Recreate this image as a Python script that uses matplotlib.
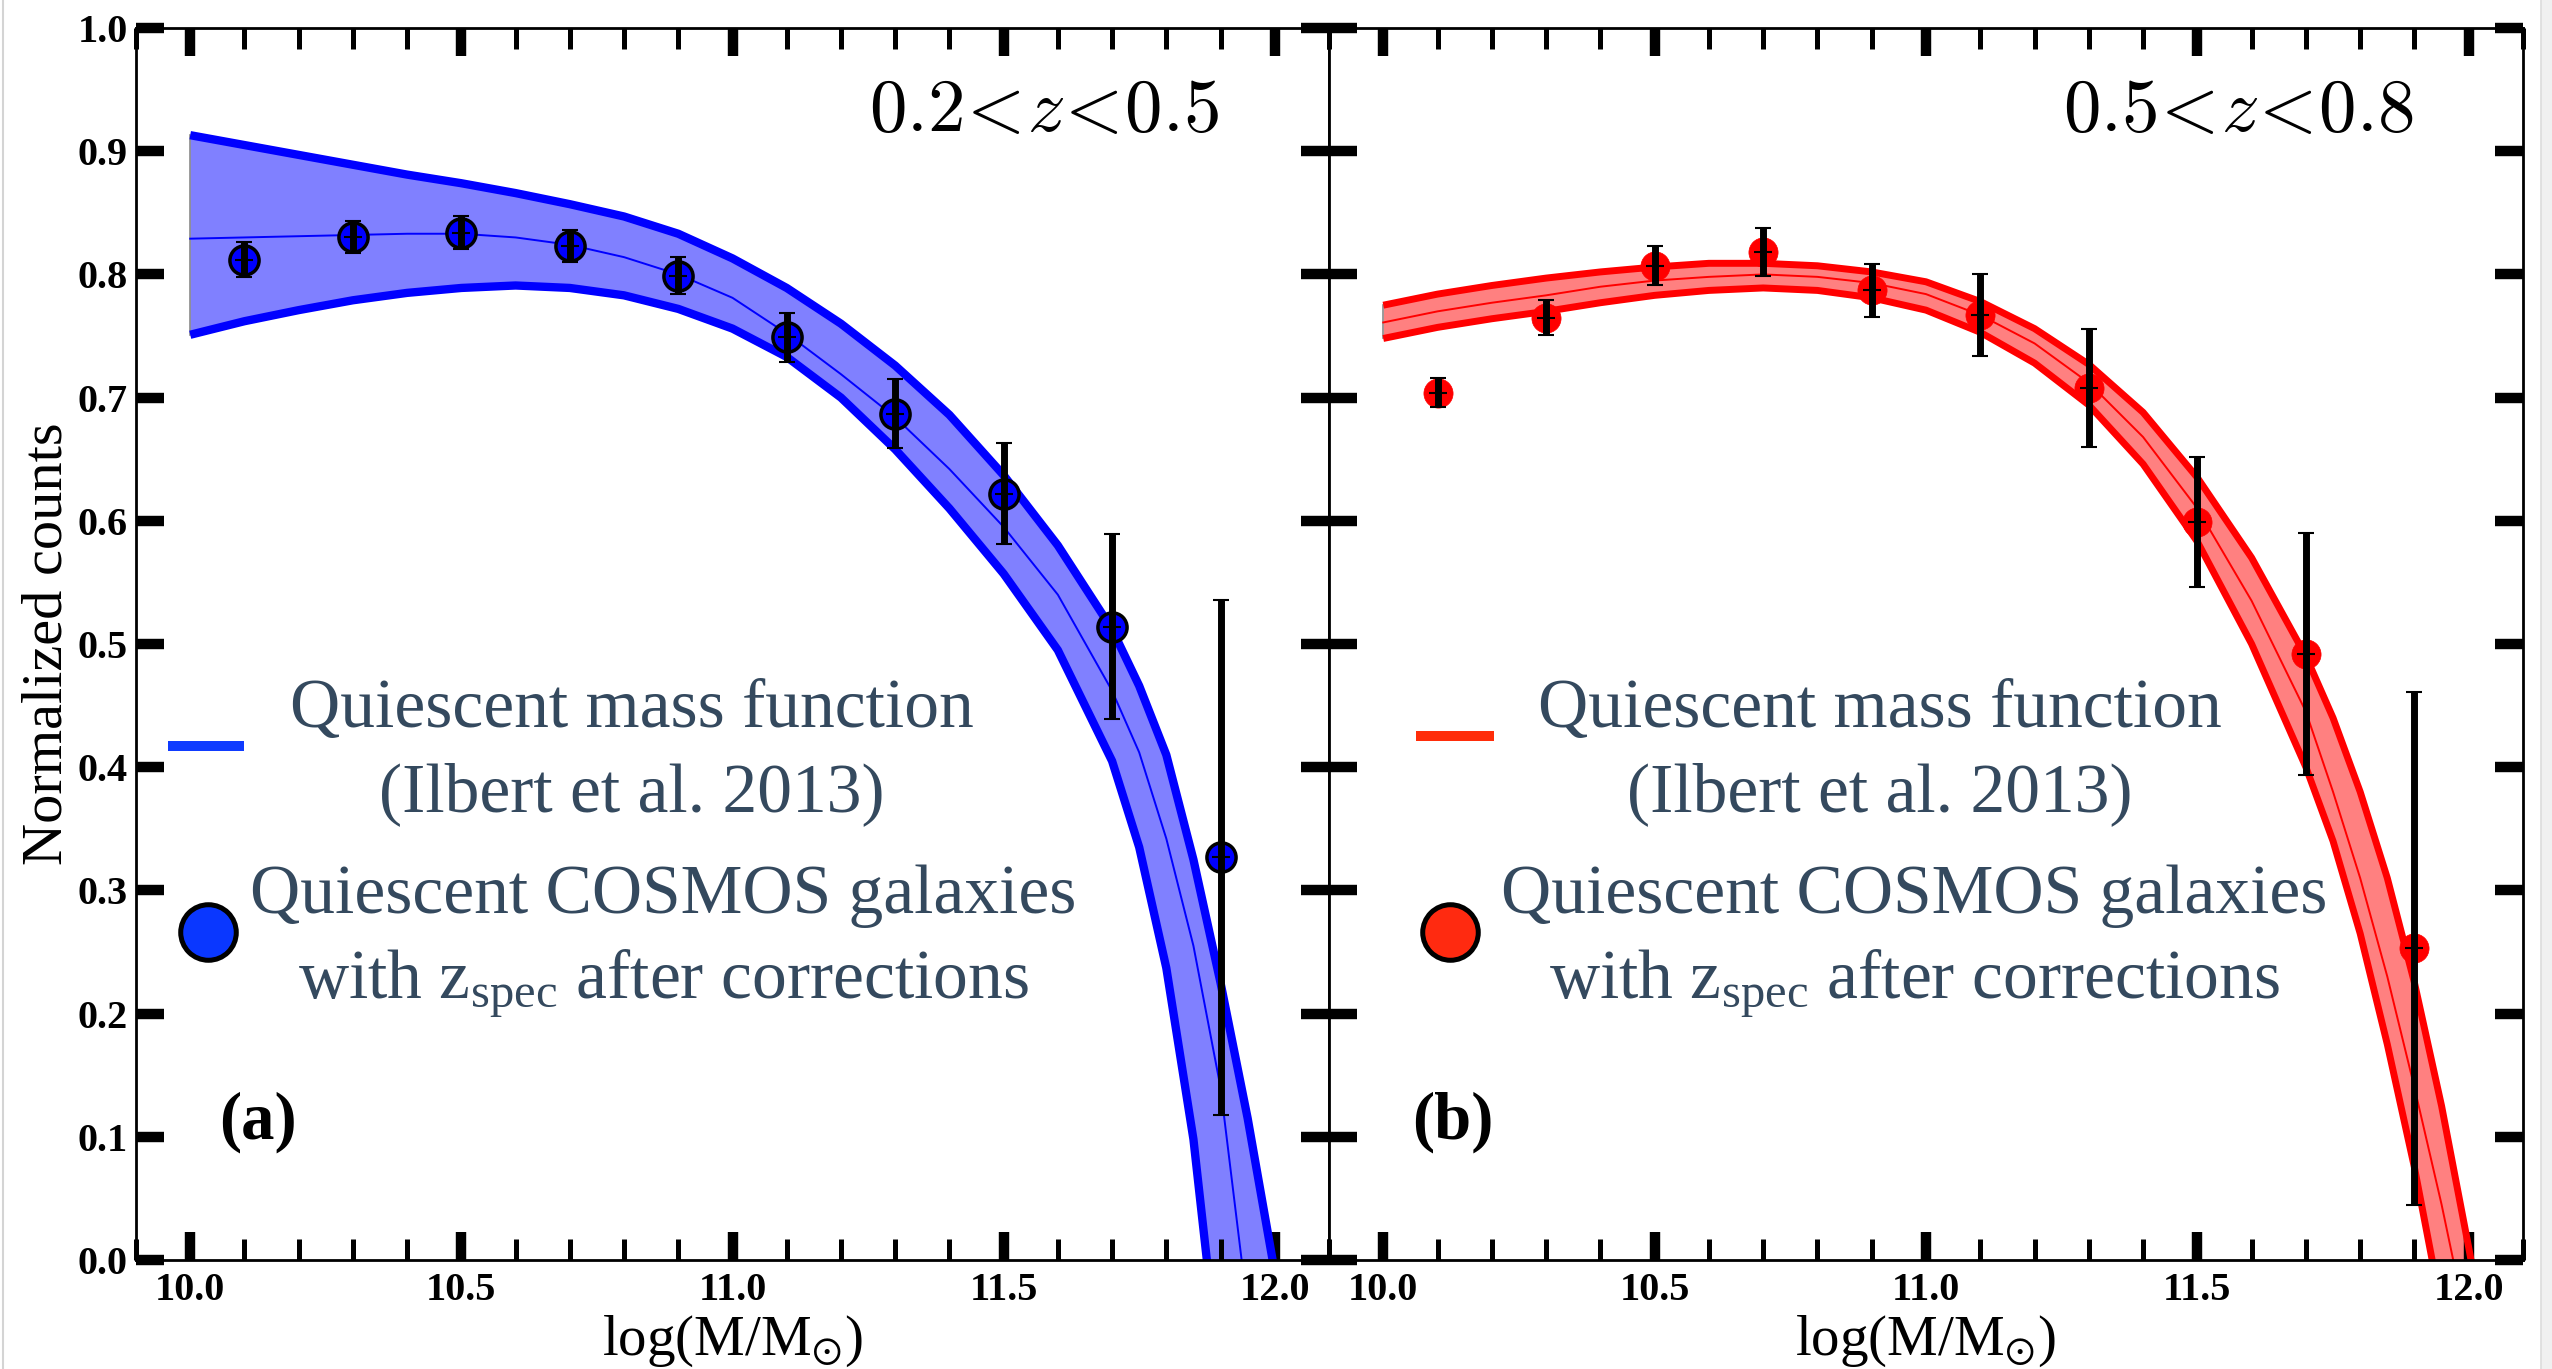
import numpy as np
import matplotlib
matplotlib.use('Agg')
import matplotlib.pyplot as plt
from matplotlib.ticker import MultipleLocator
from matplotlib.lines import Line2D
from matplotlib.patches import Rectangle

plt.rcParams['font.family'] = ['Liberation Serif', 'DejaVu Serif']
plt.rcParams['mathtext.fontset'] = 'custom'
plt.rcParams['mathtext.rm'] = 'Liberation Serif'
plt.rcParams['mathtext.it'] = 'Liberation Serif:italic'

# binned counts of quiescent galaxies, both redshift slices
mass_bins = [10.1, 10.3, 10.5, 10.7, 10.9, 11.1, 11.3, 11.5, 11.7, 11.9]
counts_a = [0.812, 0.830, 0.834, 0.823, 0.799, 0.749, 0.687, 0.622, 0.514, 0.327]
err_a = [0.014, 0.013, 0.013, 0.013, 0.015, 0.020, 0.028, 0.041, 0.075, 0.209]
counts_b = [0.704, 0.765, 0.807, 0.818, 0.787, 0.767, 0.708, 0.599, 0.492, 0.253]
err_b = [0.012, 0.014, 0.016, 0.0195, 0.0215, 0.033, 0.048, 0.053, 0.098, 0.208]

# Ilbert et al. 2013 quiescent mass function, upper / best / lower
mf_mass_a = [10.0, 10.1, 10.2, 10.3, 10.4, 10.5, 10.6, 10.7, 10.8, 10.9, 11.0, 11.1,
             11.2, 11.3, 11.4, 11.5, 11.6, 11.7, 11.75, 11.8, 11.85, 11.9, 11.95, 12.0]
mf_hi_a = [0.913, 0.905, 0.897, 0.889, 0.881, 0.874, 0.866, 0.857, 0.847, 0.833, 0.813, 0.789,
           0.760, 0.726, 0.686, 0.637, 0.580, 0.512, 0.466, 0.410, 0.325, 0.225, 0.115, -0.010]
mf_mid_a = [0.829, 0.830, 0.831, 0.832, 0.833, 0.833, 0.830, 0.824, 0.814, 0.800, 0.781, 0.752,
            0.719, 0.684, 0.642, 0.595, 0.540, 0.462, 0.412, 0.342, 0.255, 0.140, -0.040, -0.300]
mf_lo_a = [0.751, 0.762, 0.771, 0.779, 0.785, 0.789, 0.791, 0.789, 0.783, 0.772, 0.756, 0.733,
           0.700, 0.658, 0.610, 0.557, 0.495, 0.405, 0.335, 0.237, 0.098, -0.100, -0.400, -0.750]

mf_mass_b = [10.0, 10.1, 10.2, 10.3, 10.4, 10.5, 10.6, 10.7, 10.8, 10.9, 11.0, 11.1, 11.2,
             11.3, 11.4, 11.5, 11.6, 11.7, 11.75, 11.8, 11.85, 11.9, 11.95, 12.0, 12.05]
mf_hi_b = [0.775, 0.784, 0.791, 0.797, 0.802, 0.806, 0.809, 0.809, 0.807, 0.802, 0.794, 0.778, 0.756,
           0.727, 0.688, 0.635, 0.570, 0.490, 0.440, 0.380, 0.310, 0.225, 0.125, 0.010, -0.110]
mf_mid_b = [0.761, 0.770, 0.777, 0.783, 0.790, 0.795, 0.798, 0.800, 0.798, 0.793, 0.784, 0.767, 0.744,
            0.712, 0.668, 0.610, 0.535, 0.445, 0.380, 0.310, 0.230, 0.140, 0.045, -0.060, -0.180]
mf_lo_b = [0.748, 0.757, 0.764, 0.770, 0.777, 0.783, 0.787, 0.789, 0.787, 0.781, 0.771, 0.753, 0.728,
           0.694, 0.646, 0.583, 0.500, 0.400, 0.340, 0.265, 0.175, 0.075, -0.040, -0.160, -0.290]

panel_titles = [r'$0.2\!<\!z\!<\!0.5$', r'$0.5\!<\!z\!<\!0.8$']
panel_tags = ['(a)', '(b)']
key_lines = [('Quiescent mass function', '(Ilbert et al. 2013)'),
             ('Quiescent COSMOS galaxies', r'with z$_{\mathrm{spec}}$ after corrections')]
xticks = [10.0, 10.5, 11.0, 11.5, 12.0]
yticks = [0.0, 0.1, 0.2, 0.3, 0.4, 0.5, 0.6, 0.7, 0.8, 0.9, 1.0]

KEY_COLOR = '#34495e'


def style_axes(ax, show_ylabels):
    ax.set_xlim(9.9, 12.1)
    ax.set_ylim(0.0, 1.0)
    ax.set_xticks(xticks)
    ax.set_xticklabels(['%.1f' % t for t in xticks])
    ax.set_yticks(yticks)
    ax.set_yticklabels(['%.1f' % t for t in yticks])
    ax.xaxis.set_minor_locator(MultipleLocator(0.1))
    ax.tick_params(which='both', direction='in', top=True, right=True, colors='k')
    ax.tick_params(which='major', length=20, width=7.5)
    ax.tick_params(which='minor', length=15, width=3.6)
    ax.tick_params(axis='x', which='major', labelsize=29, pad=9)
    ax.tick_params(axis='y', which='major', labelsize=29, pad=6, labelleft=show_ylabels)
    for lab in ax.get_xticklabels() + ax.get_yticklabels():
        lab.set_fontweight('bold')
    for sp in ax.spines.values():
        sp.set_linewidth(2.0)
        sp.set_color('k')


def draw_band(ax, mass, hi, mid, lo, line_c, fill_c, lw):
    ax.fill_between(mass, lo, hi, color=fill_c, lw=0, zorder=1)
    ax.plot([mass[0], mass[0]], [lo[0], hi[0]], color='#8a8a8a', lw=1.2, zorder=1)
    ax.plot(mass, hi, color=line_c, lw=lw, zorder=2, solid_capstyle='butt')
    ax.plot(mass, lo, color=line_c, lw=lw, zorder=2, solid_capstyle='butt')
    ax.plot(mass, mid, color=line_c, lw=1.4, zorder=2)


def draw_points(ax, counts, errs, face, edge, mew):
    ax.plot(mass_bins, counts, 'o', ms=21, mfc=face, mec=edge, mew=mew, zorder=3)
    ax.errorbar(mass_bins, counts, yerr=errs, fmt='none', ecolor='k', elinewidth=5,
                capsize=6, capthick=1.5, zorder=4)
    ax.plot(mass_bins, counts, ls='none', marker='_', ms=13, mew=1.5, color='k', zorder=5)


def draw_key(ax, line_x, line_y, dot_x, dot_y, text_x, line_c, dot_c, dot_edge):
    tr = ax.transAxes
    ax.plot(line_x, [line_y, line_y], color=line_c, lw=7.2, solid_capstyle='butt',
            transform=tr, clip_on=False, zorder=6)
    ax.plot([dot_x], [dot_y], 'o', ms=40, mfc=dot_c, mec=dot_edge, mew=3.6,
            transform=tr, clip_on=False, zorder=6)
    baselines = [(0.4326, 0.3644), (0.2817, 0.2127)]
    for (l1, l2), (b1, b2), tx in zip(key_lines, baselines, text_x):
        ax.text(tx, b1, l1, transform=tr, ha='center', va='baseline', fontsize=50,
                color=KEY_COLOR, zorder=6)
        ax.text(tx, b2, l2, transform=tr, ha='center', va='baseline', fontsize=50,
                color=KEY_COLOR, zorder=6)


def main():
    fig = plt.figure(figsize=(25.52, 13.69), dpi=100)
    W, H = 2552.0, 1369.0
    ax_a = fig.add_axes([136 / W, 109 / H, 1193 / W, 1232 / H])
    ax_b = fig.add_axes([1329 / W, 109 / H, 1194 / W, 1232 / H])

    # panel (a): low redshift, blue
    draw_band(ax_a, mf_mass_a, mf_hi_a, mf_mid_a, mf_lo_a, '#0000ff', '#8080ff', 6.0)
    draw_points(ax_a, counts_a, err_a, '#0000ff', 'k', 2.5)
    draw_key(ax_a, [0.0268, 0.0905], 0.4172, 0.0604, 0.2662, [0.4158, 0.4417],
             '#0f3bff', '#0a37ff', 'k')

    # panel (b): higher redshift, red
    draw_band(ax_b, mf_mass_b, mf_hi_b, mf_mid_b, mf_lo_b, '#ff0000', '#ff8080', 5.0)
    draw_points(ax_b, counts_b, err_b, '#ff0000', '#ff0000', 0.5)
    draw_key(ax_b, [0.0729, 0.1382], 0.4253, 0.1013, 0.2662, [0.4615, 0.4900],
             '#ff2d0a', '#ff2a10', 'k')

    for ax, title, tag, show in [(ax_a, panel_titles[0], panel_tags[0], True),
                                 (ax_b, panel_titles[1], panel_tags[1], False)]:
        style_axes(ax, show)
        ax.text(0.908, 0.9164, title, transform=ax.transAxes, ha='right', va='baseline',
                fontsize=54, math_fontfamily='cm')
        ax.text(0.070, 0.099, tag, transform=ax.transAxes, ha='left', va='baseline',
                fontsize=48, fontweight='bold')
        ax.text(0.5, -0.0771, r'log(M/M$_{\odot}$)', transform=ax.transAxes, ha='center',
                va='baseline', fontsize=41, math_fontfamily='stix')

    fig.text(48 / W, 1 - 644 / H, 'Normalized counts', rotation=90, ha='center',
             va='center', fontsize=42)

    # page edges
    fig.add_artist(Line2D([3 / W, 3 / W], [0, 1], color='#d4d4d4', lw=1.5))
    fig.add_artist(Rectangle((2541 / W, 0), 11 / W, 1, color='#f0f0f0', lw=0))
    fig.add_artist(Line2D([2541 / W, 2541 / W], [0, 1], color='#dcdcdc', lw=1.2))

    fig.savefig('out.png', dpi=100, facecolor='white')
    plt.close(fig)


if __name__ == '__main__':
    main()
